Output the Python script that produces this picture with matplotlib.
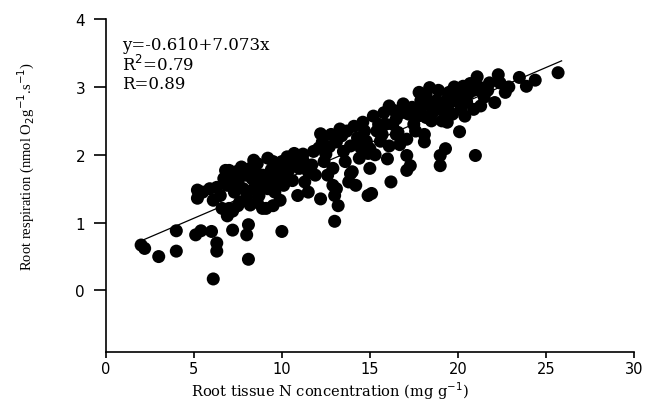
import numpy as np
import matplotlib.pyplot as plt

# ====== data ======
n_conc = [
    2.0, 2.2, 3.0, 4.0, 4.0, 5.1, 5.4, 6.0, 6.3, 6.3, 6.1, 7.2, 8.1, 8.0, 8.1, 10.0, 13.0,
    5.2, 5.2, 5.5, 5.9, 6.1, 6.3, 6.6, 6.9, 6.8, 6.5, 6.9, 7.0, 7.0, 6.7,
    7.2, 7.3, 7.5, 7.4, 7.6, 7.8, 7.9, 7.7, 7.5, 8.0, 7.2,
    8.2, 8.4, 8.3, 8.6, 8.5, 8.7, 8.8, 8.9, 8.2, 8.6, 8.9, 8.4,
    9.1, 9.2, 9.3, 9.5, 9.4, 9.6, 9.9, 9.7, 9.8, 9.2, 9.5, 9.9,
    10.2, 10.3, 10.1, 10.5, 10.6, 10.9, 10.8, 10.4, 10.7, 10.0,
    11.2, 11.2, 11.5, 11.3, 11.7, 11.8, 11.5, 11.9, 11.0,
    12.2, 12.3, 12.5, 12.8, 12.9, 12.9, 12.4, 12.6, 12.1, 12.7, 12.2,
    13.0, 13.1, 13.3, 13.1, 13.5, 13.9, 13.9, 13.6, 13.4, 13.7, 13.2, 13.8,
    14.1, 14.0, 14.3, 14.5, 14.4, 14.7, 14.9, 14.6, 14.8, 14.2, 14.9,
    15.0, 15.0, 15.2, 15.4, 15.6, 15.5, 15.8, 15.7, 15.3, 15.9, 15.1,
    16.1, 16.1, 16.0, 16.5, 16.5, 16.6, 16.3, 16.8, 16.9, 16.4, 16.2, 16.7,
    17.1, 17.3, 17.1, 17.1, 17.7, 17.4, 17.8, 17.5, 17.9, 17.2, 17.6, 17.9,
    18.1, 18.1, 18.2, 18.4, 18.6, 18.3, 18.8, 18.5, 18.9, 18.7, 18.2,
    19.0, 19.0, 19.1, 19.3, 19.4, 19.4, 19.4, 19.5, 19.7, 19.8, 19.6, 19.9, 19.2,
    20.1, 20.1, 20.3, 20.4, 20.9, 20.9, 20.5, 20.7, 20.2, 20.6,
    21.0, 21.1, 21.3, 21.4, 21.8, 21.5, 21.2, 21.7,
    22.3, 22.4, 22.7, 22.1, 23.5, 24.4, 23.9, 25.7, 22.9,
]
respiration = [
    0.67, 0.62, 0.50, 0.58, 0.88, 0.82, 0.88, 0.87, 0.70, 0.58, 0.17, 0.89, 0.97, 0.82, 0.46, 0.87, 1.02,
    1.48, 1.36, 1.45, 1.50, 1.33, 1.52, 1.21, 1.10, 1.77, 1.40, 1.55, 1.21, 1.77, 1.65,
    1.17, 1.45, 1.60, 1.75, 1.30, 1.50, 1.70, 1.82, 1.25, 1.38, 1.62,
    1.26, 1.50, 1.65, 1.87, 1.75, 1.40, 1.58, 1.21, 1.80, 1.30, 1.70, 1.92,
    1.21, 1.50, 1.65, 1.90, 1.78, 1.45, 1.33, 1.60, 1.85, 1.95, 1.25, 1.72,
    1.70, 1.97, 1.55, 1.85, 1.62, 1.40, 1.95, 1.78, 2.02, 1.90,
    2.01, 1.92, 1.75, 1.60, 1.85, 2.05, 1.45, 1.70, 1.80,
    2.31, 2.19, 2.01, 2.30, 1.80, 1.55, 1.90, 1.70, 2.10, 2.12, 1.35,
    1.40, 2.19, 2.38, 1.50, 2.05, 2.13, 1.72, 1.90, 2.28, 2.35, 1.25, 1.60,
    2.42, 1.75, 2.25, 2.10, 1.95, 2.35, 1.40, 2.48, 2.20, 1.55, 2.02,
    2.09, 1.80, 2.57, 2.35, 2.20, 2.45, 2.62, 2.30, 2.00, 2.45, 1.43,
    2.72, 2.13, 1.94, 2.30, 2.53, 2.33, 2.45, 2.62, 2.75, 2.65, 1.60, 2.15,
    1.99, 1.84, 1.77, 2.23, 2.57, 2.70, 2.92, 2.45, 2.80, 2.60, 2.35, 2.68,
    2.19, 2.30, 2.89, 2.99, 2.63, 2.75, 2.80, 2.50, 2.95, 2.70, 2.55,
    1.99, 1.84, 2.50, 2.09, 2.48, 2.82, 2.72, 2.92, 2.60, 3.00, 2.78, 2.85, 2.65,
    2.34, 2.86, 3.01, 2.57, 2.95, 2.67, 2.78, 3.05, 2.70, 2.90,
    1.99, 3.15, 2.72, 2.92, 3.06, 2.85, 3.00, 2.95,
    3.18, 3.06, 2.92, 2.77, 3.14, 3.10, 3.01, 3.21, 3.00,
]

# regression line as drawn in the figure
fit_intercept = 0.51
fit_slope = 0.111
fit_x = [2.1, 25.9]

eq_lines = ['y=-0.610+7.073x', 'R$^2$=0.79', 'R=0.89']

# ====== plot ======
fig = plt.figure(figsize=(6.46, 4.02), dpi=100)
ax = fig.add_axes([0.164, 0.123, 0.817, 0.827])

ax.scatter(n_conc, respiration, s=88, color='black', edgecolors='none', zorder=3)

fx = np.array(fit_x)
ax.plot(fx, fit_intercept + fit_slope * fx, color='black', lw=0.9, zorder=2)

ax.set_xlim(0, 30)
ax.set_ylim(-0.9, 4)
ax.set_xticks([0, 5, 10, 15, 20, 25, 30])
ax.set_yticks([0, 1, 2, 3, 4])

for s in ['top', 'right']:
    ax.spines[s].set_visible(False)
ax.spines['left'].set_linewidth(1.2)
ax.spines['bottom'].set_linewidth(1.2)
ax.tick_params(axis='y', direction='out', length=9, width=1.2, labelsize=11, pad=6)
ax.tick_params(axis='x', direction='out', length=4, width=1.2, labelsize=10.5, pad=3)

ax.set_xlabel('Root tissue N concentration (mg g$^{-1}$)', family='DejaVu Serif',
              fontsize=10.5)
ax.xaxis.set_label_coords(0.424, -0.083)
ax.set_ylabel('Root respiration (nmol O$_2$g$^{-1}$.s$^{-1}$)', family='Liberation Serif',
              fontsize=10.5)
ax.yaxis.set_label_coords(-0.13, 0.56)

for i, t in enumerate(eq_lines):
    ax.text(0.9, 3.63 - i * 0.29, t, family='DejaVu Serif', fontsize=12, va='center')

plt.savefig('out.png', dpi=100)
